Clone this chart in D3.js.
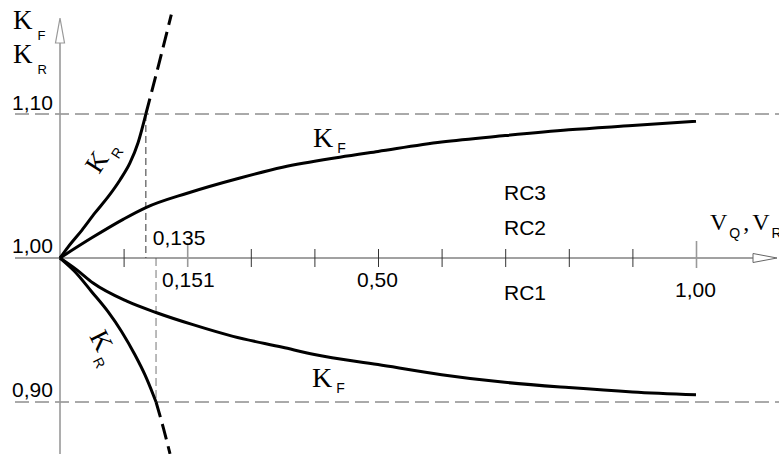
<!DOCTYPE html>
<html><head><meta charset="utf-8">
<script src="https://cdn.jsdelivr.net/npm/d3@7"></script>
<style>html,body{margin:0;padding:0;background:#fff;}svg{display:block;}</style>
</head><body>
<svg id="chart" width="779" height="454"></svg>
<script>
// ---- data ----
const kfUpperV = [0, 0.05, 0.1, 0.135, 0.2, 0.283, 0.35, 0.44, 0.5, 0.6, 0.7, 0.8, 0.9, 1.0];
const kfUpper  = [1.0, 1.014, 1.027, 1.035, 1.045, 1.0556, 1.063, 1.070, 1.074, 1.0805, 1.085, 1.089, 1.092, 1.095];
const kfLowerV = [0, 0.026, 0.052, 0.105, 0.152, 0.209, 0.272, 0.35, 0.4, 0.5, 0.6, 0.692, 0.8, 0.9, 1.0];
const kfLower  = [1.0, 0.9919, 0.9826, 0.970, 0.962, 0.9537, 0.9456, 0.938, 0.933, 0.926, 0.919, 0.914, 0.910, 0.907, 0.905];
const krUpperV = [0, 0.0126, 0.0346, 0.055, 0.0755, 0.0943, 0.110, 0.1226, 0.135];
const krUpper  = [1.0, 1.0076, 1.0194, 1.0313, 1.0424, 1.0542, 1.066, 1.0799, 1.10];
const krUpperExtV = [0.135, 0.155, 0.175];
const krUpperExt  = [1.10, 1.134, 1.169];
const krLowerV = [0, 0.0236, 0.0498, 0.0755, 0.097, 0.118, 0.1336, 0.1467, 0.151];
const krLower  = [1.0, 0.9905, 0.9766, 0.9627, 0.9488, 0.9326, 0.9188, 0.9049, 0.90];
const krLowerExtV = [0.151, 0.1625, 0.173];
const krLowerExt  = [0.90, 0.882, 0.864];
const xTicks = [0.1, 0.2, 0.3, 0.4, 0.5, 0.6, 0.7, 0.8, 0.9, 1.0];
const xTickLabels = [{v: 0.135, t: "0,135"}, {v: 0.151, t: "0,151"}, {v: 0.5, t: "0,50"}, {v: 1.0, t: "1,00"}];
const yLevels = [1.10, 1.00, 0.90];
const yLevelLabels = ["1,10", "1,00", "0,90"];
const regionLabels = ["RC3", "RC2", "RC1"];

// ---- scales ----
const x = d3.scaleLinear().domain([0, 1]).range([60, 696]);
const y = d3.scaleLinear().domain([0.9, 1.1]).range([402, 114]);
const svg = d3.select("#chart");
const SANS = "'Liberation Sans', Arial, sans-serif";
const SERIF = "'Liberation Serif', 'Times New Roman', serif";
const FS = 21;

// horizontal dashed reference lines at 1.10 and 0.90
[1.10, 0.90].forEach(v => {
  svg.append("line").attr("x1", 15).attr("x2", 779).attr("y1", y(v)).attr("y2", y(v))
    .attr("stroke", "#555").attr("stroke-width", 1).attr("stroke-dasharray", "14,6");
});

// vertical dashed guides
svg.append("line").attr("x1", x(0.135)).attr("x2", x(0.135)).attr("y1", y(1.10)).attr("y2", y(1.0))
  .attr("stroke", "#333").attr("stroke-width", 1).attr("stroke-dasharray", "7,4");
svg.append("line").attr("x1", x(0.151)).attr("x2", x(0.151)).attr("y1", y(1.0)).attr("y2", y(0.90))
  .attr("stroke", "#aaa").attr("stroke-width", 1.6).attr("stroke-dasharray", "8,4");

// y axis (gray) with open arrow
svg.append("line").attr("x1", x(0)).attr("x2", x(0)).attr("y1", 20).attr("y2", 454)
  .attr("stroke", "#999").attr("stroke-width", 1.6);
svg.append("path").attr("d", `M${x(0)},18 L${x(0)-4.5},43 L${x(0)+4.5},43 Z`)
  .attr("fill", "#fff").attr("stroke", "#999").attr("stroke-width", 1.2);

// x axis line with open arrow
svg.append("line").attr("x1", 15).attr("x2", 755).attr("y1", y(1.0)).attr("y2", y(1.0))
  .attr("stroke", "#444").attr("stroke-width", 1);
svg.append("path").attr("d", `M777,${y(1.0)} L753,${y(1.0)-4.5} L753,${y(1.0)+4.5} Z`)
  .attr("fill", "#fff").attr("stroke", "#666").attr("stroke-width", 1);

// x ticks via d3 axis
const axis = d3.axisBottom(x).tickValues(xTicks).tickSize(18).tickFormat("");
const gAx = svg.append("g").attr("transform", `translate(0,${y(1.0) - 9})`).call(axis);
gAx.select(".domain").remove();
gAx.selectAll(".tick line").attr("stroke", d => (d === 0.2 || d === 1.0) ? "#999" : "#333")
  .attr("stroke-width", d => (d === 0.2 || d === 1.0) ? 1.6 : 1)
  .attr("y1", d => (d === 0.2 ? -6 : d === 1.0 ? -8 : 0))
  .attr("y2", d => (d === 1.0 ? 19 : 18));

// curves
const line = d3.line().x(d => x(d[0])).y(d => y(d[1])).curve(d3.curveMonotoneX);
const zip = (a, b) => a.map((v, i) => [v, b[i]]);
function curve(vs, ks, dash) {
  svg.append("path").datum(zip(vs, ks)).attr("d", line)
    .attr("fill", "none").attr("stroke", "#000").attr("stroke-width", 3)
    .attr("stroke-linejoin", "round")
    .attr("stroke-dasharray", dash || null);
}
curve(kfUpperV, kfUpper);
curve(kfLowerV, kfLower);
curve(krUpperV, krUpper);
curve(krLowerV, krLower);
curve(krUpperExtV, krUpperExt, "16,7");
curve(krLowerExtV, krLowerExt, "16,7");

// y level labels
const yLabX = 12, yLabBase = [110, 253, 397];
yLevels.forEach((v, i) => {
  svg.append("text").attr("x", yLabX).attr("y", yLabBase[i])
    .attr("font-family", SANS).attr("font-size", FS).attr("fill", "#000").text(yLevelLabels[i]);
});

// x tick labels
const xLabPos = {"0,135": [7, 245], "0,151": [6, 287], "0,50": [-21, 287], "1,00": [-21, 297]};
xTickLabels.forEach(d => {
  const p = xLabPos[d.t];
  svg.append("text").attr("x", x(d.v) + p[0]).attr("y", p[1])
    .attr("font-family", SANS).attr("font-size", FS).attr("fill", "#000").text(d.t);
});

// region labels
const rcBase = [200, 235, 300];
regionLabels.forEach((t, i) => {
  svg.append("text").attr("x", 504).attr("y", rcBase[i])
    .attr("font-family", SANS).attr("font-size", FS).attr("fill", "#000").text(t);
});

// K labels with subscript
function kLabel(px, py, main, sub, size, subSize, dx, dy, rot) {
  const t = svg.append("text").attr("transform", `translate(${px},${py}) rotate(${rot || 0})`).attr("fill", "#000");
  t.append("tspan").attr("font-family", SERIF).attr("font-size", size).text(main);
  t.append("tspan").attr("font-family", SANS).attr("font-size", subSize).attr("dx", dx).attr("dy", dy).text(sub);
  return t;
}
kLabel(13, 29, "K", "F", 27, 13, 5, 11);
kLabel(13, 63, "K", "R", 27, 13, 5, 11);
kLabel(313, 147, "K", "F", 28, 14, 4, 6);
kLabel(312, 387, "K", "F", 28, 14, 4, 6);
kLabel(99, 175, "K", "R", 27, 14, 4, 8, -57);
kLabel(89, 336, "K", "R", 27, 14, 4, 8, 63);

// V_Q , V_R axis label
const vt = svg.append("text").attr("x", 710).attr("y", 230).attr("fill", "#000");
vt.append("tspan").attr("font-family", SERIF).attr("font-size", 24).text("V");
vt.append("tspan").attr("font-family", SANS).attr("font-size", 14).attr("dx", 2).attr("dy", 8).text("Q");
vt.append("tspan").attr("font-family", SERIF).attr("font-size", 24).attr("dx", 3).attr("dy", -8).text(",");
vt.append("tspan").attr("font-family", SERIF).attr("font-size", 24).attr("dx", 3).text("V");
vt.append("tspan").attr("font-family", SANS).attr("font-size", 14).attr("dx", 2).attr("dy", 8).text("R");
</script>
</body></html>
